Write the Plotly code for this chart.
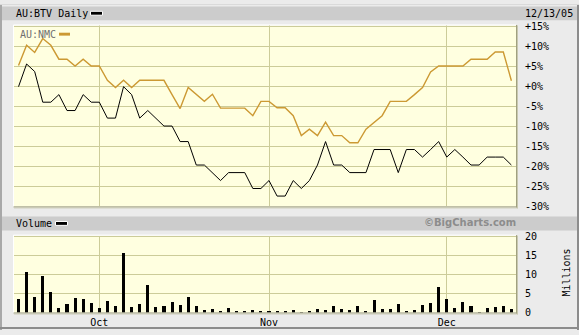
import plotly.graph_objects as go

W, H = 579, 335

# ---------------- data ----------------
sep_days = ["2005-09-%02d" % d for d in [19, 20, 21, 22, 23, 26, 27, 28, 29, 30]]
oct_days = ["2005-10-%02d" % d for d in [3, 4, 5, 6, 7, 10, 11, 12, 13, 14, 17, 18, 19, 20, 21,
                                         24, 25, 26, 27, 28, 31]]
nov_days = ["2005-11-%02d" % d for d in [1, 2, 3, 4, 7, 8, 9, 10, 11, 14, 15, 16, 17, 18,
                                         21, 22, 23, 24, 25, 28, 29, 30]]
dec_days = ["2005-12-%02d" % d for d in [1, 2, 5, 6, 7, 8, 9, 12, 13]]
dates = sep_days + oct_days + nov_days + dec_days

btv_pct = [0.0, 5.7, 3.8, -3.9, -3.9, -2.0, -6.0, -6.0, -2.0, -3.9,
           -3.9, -7.9, -7.9, 0.0, -2.0, -7.9, -6.0, -7.9, -9.9, -9.9,
           -13.8, -13.8, -19.7, -19.7, -21.6, -23.6, -21.6, -21.6, -21.6, -25.6,
           -25.6, -23.6, -27.5, -27.5, -23.6, -25.6, -23.6, -19.7, -13.8, -19.7,
           -19.7, -21.6, -21.6, -21.6, -15.8, -15.8, -15.8, -21.6, -15.8, -15.8,
           -17.7, -15.8, -13.8, -17.7, -15.8, -17.7, -19.7, -19.7, -17.7, -17.7,
           -17.7, -19.7]

nmc_pct = [5.3, 10.4, 8.6, 12.1, 10.4, 6.9, 6.9, 5.2, 6.9, 5.2,
           5.2, 1.6, -0.2, 1.6, -0.2, 1.6, 1.6, 1.6, 1.6, -2.0,
           -5.5, -0.2, -1.9, -3.7, -1.9, -5.4, -5.4, -5.4, -5.4, -7.3,
           -3.7, -3.7, -5.3, -5.3, -7.3, -12.3, -10.7, -12.3, -8.9, -12.3,
           -12.3, -14.1, -14.1, -10.7, -8.9, -7.3, -3.7, -3.7, -3.7, -2.0,
           -0.2, 3.7, 5.2, 5.2, 5.2, 5.2, 6.9, 6.9, 6.9, 8.7,
           8.7, 1.5]

volume_m = [3.6, 10.8, 4.1, 9.7, 5.4, 1.3, 2.3, 3.8, 3.6, 2.6,
            1.3, 3.1, 1.8, 15.9, 1.5, 2.3, 7.2, 1.5, 1.8, 2.8,
            2.0, 4.1, 1.8, 0.8, 1.0, 0.5, 1.3, 0.5, 0.5, 0.8,
            0.5, 0.2, 0.5, 0.5, 0.8, 0.1, 0.5, 1.0, 0.8, 1.8,
            1.0, 0.8, 1.8, 0.5, 3.4, 1.0, 1.0, 2.3, 0.5, 0.8,
            2.0, 2.6, 6.7, 3.6, 1.3, 2.8, 1.8, 0.1, 1.3, 1.5,
            1.8, 1.0]

month_ticks = ["2005-10-03", "2005-11-01", "2005-12-01"]
month_labels = ["Oct", "Nov", "Dec"]
pct_ticks = [15, 10, 5, 0, -5, -10, -15, -20, -25, -30]
pct_labels = ["+15%", "+10%", "+5%", "+0%", "-5%", "-10%", "-15%", "-20%", "-25%", "-30%"]
vol_ticks = [0, 5, 10, 15, 20]
vol_labels = ["0", "5", "10", "15", "20"]

# ---------------- styling helpers ----------------
MONO = "DejaVu Sans Mono"
GOLD = "#CC9933"
GRID = "#CCCC99"
PLOT_BG = "#FFFFE0"
PAGE_BG = "#EBEBEB"
BAND = "#CCCCCC"


def px(x):
    return x / W


def py(y):
    return 1 - y / H


PL, PR = 14, 516
MT, MB = 22, 208
VT, VB = 238, 317

fig = go.Figure()

fig.add_trace(go.Scatter(x=dates, y=nmc_pct, mode="lines",
                         line=dict(color=GOLD, width=1.4),
                         xaxis="x", yaxis="y", hoverinfo="skip"))
fig.add_trace(go.Scatter(x=dates, y=btv_pct, mode="lines",
                         line=dict(color="black", width=1),
                         xaxis="x", yaxis="y", hoverinfo="skip"))
fig.add_trace(go.Bar(x=dates, y=volume_m, marker=dict(color="black", line=dict(width=0)),
                     width=0.38, xaxis="x2", yaxis="y2", hoverinfo="skip"))

xr = [-0.56, 61.57]
axis_font = dict(family=MONO, size=10, color="black")

fig.update_layout(
    width=W, height=H,
    margin=dict(l=0, r=0, t=0, b=0),
    paper_bgcolor=PAGE_BG,
    plot_bgcolor=PLOT_BG,
    showlegend=False,
    bargap=0,
    xaxis=dict(domain=[px(PL), px(PR)], anchor="y", type="category",
               categoryorder="array", categoryarray=dates,
               range=xr, tickvals=month_ticks, ticktext=month_labels,
               showticklabels=False, showgrid=True, gridcolor=GRID, gridwidth=1,
               zeroline=False, showline=False, ticks=""),
    yaxis=dict(domain=[py(MB), py(MT)], anchor="x", side="right",
               range=[-30.1, 15.4], tickvals=pct_ticks, ticktext=pct_labels,
               showgrid=True, gridcolor=GRID, gridwidth=1, zeroline=False,
               showline=False, ticks="", tickfont=axis_font, ticklabelstandoff=8),
    xaxis2=dict(domain=[px(PL), px(PR)], anchor="y2", type="category",
                categoryorder="array", categoryarray=dates,
                range=xr, tickvals=month_ticks, ticktext=month_labels,
                showgrid=True, gridcolor=GRID, gridwidth=1,
                zeroline=False, showline=False, ticks="", tickfont=axis_font,
                ticklabelstandoff=3),
    yaxis2=dict(domain=[py(VB), py(VT)], anchor="x2", side="right",
                range=[-0.08, 20.34], tickvals=vol_ticks, ticktext=vol_labels,
                showgrid=True, gridcolor=GRID, gridwidth=1, zeroline=False,
                showline=False, ticks="", tickfont=axis_font, ticklabelstandoff=8),
)

shapes = []


def rect(x0, y0, x1, y1, fill, line_color=None, lw=0, layer="below"):
    shapes.append(dict(type="rect", xref="paper", yref="paper",
                       x0=px(x0), x1=px(x1), y0=py(y1), y1=py(y0),
                       fillcolor=fill, layer=layer,
                       line=dict(color=line_color or fill, width=lw)))


def hline(x0, x1, y, color, w=1, layer="above"):
    shapes.append(dict(type="line", xref="paper", yref="paper",
                       x0=px(x0), x1=px(x1), y0=py(y), y1=py(y),
                       line=dict(color=color, width=w), layer=layer))


def vline(x, y0, y1, color, w=1, layer="above"):
    shapes.append(dict(type="line", xref="paper", yref="paper",
                       x0=px(x), x1=px(x), y0=py(y0), y1=py(y1),
                       line=dict(color=color, width=w), layer=layer))


# header bands
rect(2, 2.5, 579, 16.7, BAND)
rect(2, 218.3, 579, 232.7, BAND)
# outer frame
vline(1, 0, 335, "#A8A8A8", 2)
hline(0, 579, 333, "#8C8C8C", 2)
vline(578, 0, 335, "#8C8C8C", 2)
hline(0, 579, 0.5, "#DADADA", 1)

# bevels around plot areas
for (t, b) in [(MT, MB), (VT, VB)]:
    hline(PL - 0.5, PR + 0.5, t - 0.5, "#FFFFFF", 1)
    vline(PL - 0.5, t - 0.5, b + 0.5, "#FFFFFF", 1)
    hline(PL - 0.5, PR + 1.5, b + 0.5, "#A0A080", 1)
    hline(PL, PR + 2, b + 1.5, "#C8C8B0", 1)
    vline(PR + 0.5, t - 0.5, b + 1, "#A0A080", 1)
    vline(PR + 1.5, t, b + 2, "#C8C8B0", 1)

# legend swatches
rect(90.5, 7.5, 102.5, 11.5, "black", "white", 1, layer="above")
rect(59, 29.5, 70, 32.5, GOLD, layer="above")
rect(55.5, 223.5, 67.5, 227.5, "black", "white", 1, layer="above")

fig.update_layout(shapes=shapes)

ann = []


def text(x, y, s, color="black", xanchor="left", size=10, family=MONO, angle=0, bold=False):
    ann.append(dict(xref="paper", yref="paper", x=px(x), y=py(y), text=("<b>%s</b>" % s) if bold else s,
                    showarrow=False, xanchor=xanchor, yanchor="middle",
                    textangle=angle,
                    font=dict(family=family, size=size, color=color)))


text(14, 9.5, "AU:BTV Daily")
text(523, 9.5, "12/13/05")
text(17.5, 31, "AU:NMC", color="#707070")
text(14, 226, "Volume")
text(470, 225, "©BigCharts.com", color="#8C8C8C", xanchor="center", family="DejaVu Sans", size=10, bold=True)
text(567, 276, "Millions", xanchor="center", angle=-90)

fig.update_layout(annotations=ann)

fig.write_html("out.html")
